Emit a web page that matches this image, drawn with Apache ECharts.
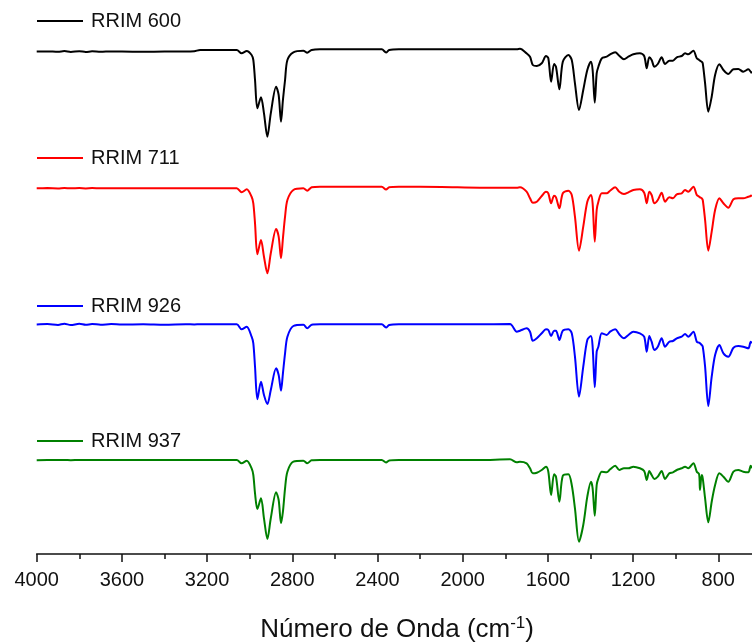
<!DOCTYPE html>
<html>
<head>
<meta charset="utf-8">
<script src="https://cdn.jsdelivr.net/npm/echarts@6/dist/echarts.min.js"></script>
<style>
  html, body { margin: 0; padding: 0; background: #fff; }
  #chart { width: 752px; height: 642px; }
</style>
</head>
<body>
<div id="chart"></div>
<script>
// FTIR spectra of four natural rubber clones (relative transmittance, a.u.)
const wavenumbers = [
  4000, 3950, 3900, 3870, 3840, 3800, 3770, 3740, 3700, 3650, 3600, 3500, 3400, 3300, 3260, 3233,
  3061, 3038, 3014, 2991, 2983, 2975, 2964, 2947, 2933, 2917, 2901, 2876, 2864, 2853, 2844, 2834, 2823, 2795, 2748, 2730, 2709, 2670,
  2500, 2380, 2360, 2345, 2300, 2100, 1919,
  1778, 1746, 1731, 1700, 1684, 1671, 1652, 1629, 1609, 1598,
  1585, 1571, 1562, 1546, 1530, 1504, 1488, 1473, 1454, 1434,
  1415, 1398, 1390, 1380, 1371, 1363, 1347, 1324, 1308, 1284,
  1265, 1243, 1222, 1199, 1168, 1148, 1136, 1124, 1113, 1100,
  1084, 1066, 1050, 1030, 1013, 995, 972, 956, 941, 917,
  901, 890, 886, 878, 873, 862, 847, 831, 815, 795,
  776, 753, 729, 706, 683, 659, 648, 643
];

const rrim600 = [
  100.4, 100.6, 100.2, 100.9, 100.1, 100.8, 100.0, 100.7, 100.2, 100.6, 100.4, 100.3, 100.4, 100.4, 100.8, 102,
  102, 98.7, 101, 97, 92, 72, 43.7, 54.7, 38.7, 15.3, 38.7, 65.3, 57, 30.3, 52, 72, 92, 99.7, 101.3, 99.3, 102, 102.7,
  102.7, 102.7, 99.5, 102, 102.7, 102.7, 102.7,
  102.7, 102.7, 103.3, 98.7, 95.3, 87, 86, 88.7, 96, 93.7,
  70.3, 88, 85.3, 62.7, 90.3, 97, 92, 68.7, 42, 62,
  82, 90.3, 82, 49.3, 78.7, 85.3, 93.7, 95.3, 97.7, 99.7,
  96.3, 92.7, 95.3, 97.7, 98.7, 96, 83.7, 94.7, 92, 85.3,
  88, 94.7, 88, 91.3, 91.3, 94.7, 96, 98.7, 97.7, 101.3,
  93.7, 92, 91.3, 90.3, 88.7, 68.7, 40.3, 55.3, 77, 87.7,
  82, 78, 82.7, 83, 80.3, 82.7, 80.3, 78.7
];

const rrim711 = [
  99.8, 99.9, 99.6, 100.0, 99.7, 99.9, 99.6, 99.9, 99.7, 99.8, 99.8, 99.7, 99.8, 99.7, 99.8, 99.7,
  99.7, 95.7, 98.7, 91.3, 84.7, 64.7, 33.7, 48, 31.3, 14.7, 34.7, 59, 51.3, 29.7, 49.7, 71.3, 88, 98, 99.7, 97.3, 100.7, 101.3,
  101.2, 101.2, 98.5, 100.7, 101.2, 101, 100.3,
  100.3, 100.3, 100.7, 96.3, 89.7, 85.3, 86.3, 92, 96.3, 94.7,
  84.7, 92.3, 90.7, 79.7, 94.7, 97.3, 93, 71.3, 37.3, 61.3,
  86.3, 93, 84.7, 46.3, 78, 86.3, 94.7, 94.7, 97.3, 100.7,
  96.3, 94, 95.7, 98, 98.7, 95.3, 84.7, 96.3, 93, 84.7,
  88, 95.3, 86.3, 90.7, 89.7, 93.7, 94.7, 98, 96.3, 101.3,
  93, 91.3, 90.7, 89.7, 88, 68, 37.3, 56.3, 78, 89.7,
  84.7, 80.3, 88.7, 89.7, 89.7, 91.3, 92, 93
];

const rrim926 = [
  100.6, 100.9, 100.1, 101.3, 100.0, 101.2, 100.2, 101.0, 100.3, 100.9, 100.4, 100.8, 100.3, 100.7, 100.6, 100.7,
  100.7, 95.7, 98.3, 88.3, 81.7, 58.3, 25.7, 43.3, 30, 21, 35, 56.7, 50, 34.3, 51.7, 71.7, 88.3, 99, 100.3, 96.7, 100.3, 100.7,
  100.7, 100.7, 97.5, 100, 100.7, 100.7, 100.7,
  101, 93.3, 94.3, 96.7, 93.3, 84.3, 86.7, 91.7, 95.7, 95,
  89, 94.3, 94.3, 85, 94.3, 95.7, 91.7, 68.3, 28.3, 58.3,
  85, 89, 78.3, 37.7, 73.3, 78.3, 91.7, 90, 93.3, 95.7,
  90.7, 86.7, 90, 93.3, 91.7, 88.3, 73.3, 89, 83.3, 75,
  78.3, 86.7, 78.3, 83.3, 84, 86.7, 88.3, 91, 88.3, 93.3,
  83.3, 82.3, 81.7, 80, 78.3, 58.3, 19, 48.3, 70, 80,
  71.7, 68.3, 77.3, 79, 78.3, 76.7, 83.3, 81.7
];

const rrim937 = [
  101.8, 102.0, 101.9, 102.1, 101.8, 102.0, 101.9, 102.0, 101.9, 102.0, 102.1, 102.0, 102.1, 102.0, 102.0, 102.0,
  102, 98.7, 101.3, 93.7, 87, 68.7, 53, 63.7, 43.7, 23, 43.7, 69.7, 62, 38.7, 50.3, 73.7, 90.3, 100.3, 101.3, 98.7, 101.7, 102,
  102, 102, 99.5, 101.5, 102, 102, 102,
  102.7, 99.7, 100.3, 98.7, 93.7, 88.7, 89.3, 92, 95.3, 90.3,
  67, 87.7, 85.3, 60.3, 86.3, 87.7, 77, 53.7, 20.3, 37,
  65.3, 80.3, 73.7, 46.3, 77, 83.7, 90.3, 89.7, 92.7, 96.3,
  92, 93.7, 93.7, 95.3, 93.7, 91, 82, 91, 87, 83,
  85.3, 91, 83, 88.7, 89.7, 92, 93.7, 95.3, 93.7, 98.7,
  90.3, 87.7, 72, 87, 83.7, 63.7, 39.7, 60.3, 77, 88.7,
  85.3, 80.3, 90.3, 92, 90.3, 89.7, 96.3, 93.7
];

const seriesNames = ['RRIM 600', 'RRIM 711', 'RRIM 926', 'RRIM 937'];
const seriesValues = [rrim600, rrim711, rrim926, rrim937];

// Drawing settings: vertical stacking offsets, colours, legend placement
const stackOffsets = [410, 274, 137, 0];
const colors = ['#000000', '#ff0000', '#0000ff', '#008000'];
const legendTops = [11, 148, 296, 431];
const FONT = 'Liberation Sans, Arial, sans-serif';

const chart = echarts.init(document.getElementById('chart'), null, { renderer: 'canvas' });

const series = seriesValues.map((vals, i) => ({
  name: seriesNames[i],
  type: 'line',
  data: wavenumbers.map((w, k) => [w, vals[k] + stackOffsets[i]]),
  symbol: 'none',
  smooth: 0.3,
  lineStyle: { color: colors[i], width: 2 },
  itemStyle: { color: colors[i] },
  emphasis: { disabled: true },
  z: 2 + i
}));

const legends = seriesNames.map((name, i) => ({
  data: [name],
  left: 37,
  top: legendTops[i],
  padding: 0,
  icon: 'rect',
  itemWidth: 46,
  itemHeight: 2,
  itemGap: 0,
  selectedMode: false,
  textStyle: { fontFamily: FONT, fontSize: 20, color: '#111', padding: [0, 0, 0, 3] }
}));

chart.setOption({
  animation: false,
  backgroundColor: '#ffffff',
  legend: legends,
  // plot area runs past the right edge of the canvas (axis continues below 800)
  grid: { left: 36.7, right: -51.5, top: 0, bottom: 88, outerBoundsMode: 'none', containLabel: false },
  xAxis: {
    type: 'value',
    inverse: true,
    min: 400,
    max: 4000,
    interval: 400,
    name: 'Número de Onda (cm{sup|-1})',
    nameLocation: 'middle',
    nameGap: 61,
    nameTextStyle: {
      fontFamily: FONT,
      fontSize: 26,
      color: '#111',
      // keep the title centred on the visible part of the axis
      padding: [0, 46, 0, 0],
      rich: {
        sup: { fontFamily: FONT, fontSize: 17, color: '#111', verticalAlign: 'top', lineHeight: 30 }
      }
    },
    axisLine: { show: true, lineStyle: { color: '#111', width: 1.5 } },
    axisTick: { show: true, inside: false, length: 8, lineStyle: { color: '#111', width: 1.5 } },
    minorTick: { show: true, splitNumber: 2, length: 5, lineStyle: { color: '#111', width: 1.5 } },
    axisLabel: {
      fontFamily: FONT, fontSize: 20, color: '#111', margin: 16, showMinLabel: false,
      formatter: (v) => String(v)
    },
    splitLine: { show: false },
    minorSplitLine: { show: false }
  },
  yAxis: {
    type: 'value',
    show: false,
    min: 8,
    max: 562,
    splitLine: { show: false }
  },
  series: series
});
</script>
</body>
</html>
